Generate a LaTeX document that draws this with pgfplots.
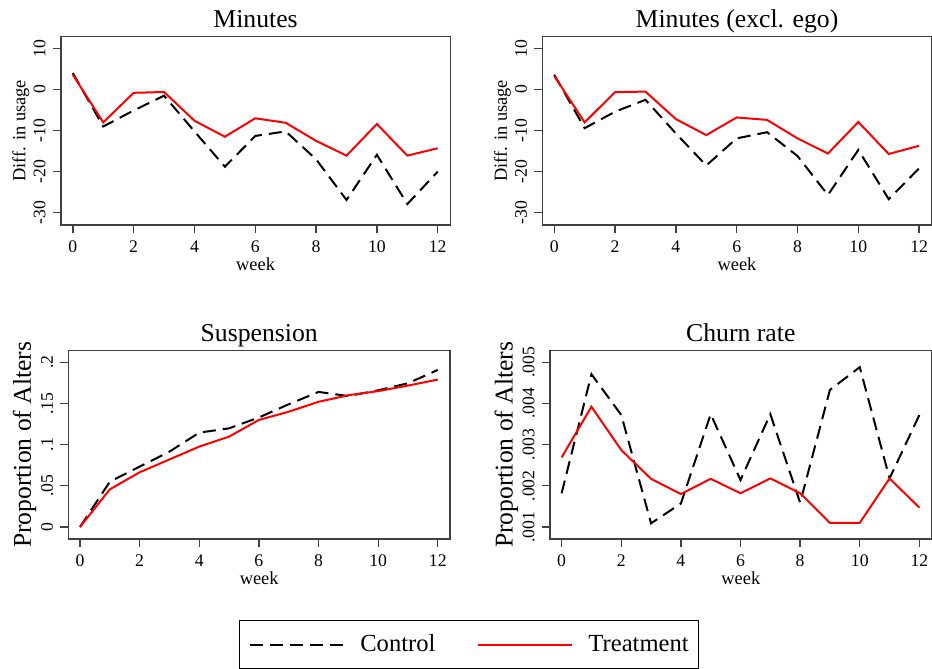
\documentclass[border=0pt]{standalone}
\usepackage{fontspec}
\setmainfont{Liberation Serif}
\usepackage{pgfplots}
\pgfplotsset{compat=1.18}

\definecolor{framegray}{RGB}{64,64,64}

\pgfplotsset{
  panel/.style={
    scale only axis,
    height=94.2pt,
    xmin=-0.39, xmax=12.41,
    axis line style={framegray, line width=0.65pt},
    tick style={framegray, line width=0.65pt},
    tick align=outside, major tick length=4pt,
    xtick pos=bottom, ytick pos=left,
    xtick={0,2,4,6,8,10,12}, xticklabels={0,2,4,6,8,10,12},
    scaled ticks=false,
    xticklabel style={anchor=base, inner sep=0pt, yshift=-9.65pt, font=\fontsize{8.85}{10}\selectfont},
    yticklabel style={xshift=-3.8pt, rotate=90, anchor=base, inner sep=0pt, font=\fontsize{8.85}{10}\selectfont},
    xlabel={week},
    every axis x label/.style={at={(axis description cs:0.5,0)}, anchor=base, yshift=-23pt, inner sep=0pt, font=\fontsize{9.2}{11}\selectfont},
    every axis title/.style={at={(axis description cs:0.5,1)}, anchor=base, yshift=4.4pt, inner sep=0pt, font=\fontsize{12.85}{15}\selectfont},
  },
  toprow/.style={
    panel, width=194.6pt,
    ymin=-33, ymax=12.9,
    ytick={-30,-20,-10,0,10}, yticklabels={-30,-20,-10,0,10},
    ylabel={Diff. in usage},
    every axis y label/.style={at={(axis description cs:0,0.5)}, xshift=-17.8pt, rotate=90, anchor=base, inner sep=0pt, font=\fontsize{9.2}{11}\selectfont},
  },
  botrow/.style={
    panel, width=190.8pt,
    ylabel={Proportion of Alters},
    every axis y label/.style={at={(axis description cs:0,0.5)}, xshift=-18.7pt, rotate=90, anchor=base, inner sep=0pt, font=\fontsize{12.8}{15}\selectfont},
  },
  ctrl/.style={black, line width=1pt, dash pattern=on 6.5pt off 3.5pt},
  treat/.style={red, line width=1pt},
}

\begin{document}
\begin{tikzpicture}
\path[use as bounding box] (0,0) rectangle (466pt,334.5pt);

% Minutes
\begin{axis}[toprow, at={(30.5pt,222pt)}, anchor=south west, title={Minutes}]
  \addplot[ctrl] coordinates {
    (0,4.0) (1,-9.0) (2,-5.1) (3,-1.5) (4,-10.2) (5,-18.8) (6,-11.3)
    (7,-10.2) (8,-17.0) (9,-26.9) (10,-15.9) (11,-27.9) (12,-20.0)
  };
  \addplot[treat] coordinates {
    (0,3.6) (1,-8.0) (2,-0.8) (3,-0.6) (4,-7.6) (5,-11.5) (6,-7.0)
    (7,-8.1) (8,-12.5) (9,-16.1) (10,-8.4) (11,-16.1) (12,-14.3)
  };
\end{axis}

% Minutes (excl. ego)
\begin{axis}[toprow, at={(271.2pt,222pt)}, anchor=south west, title={Minutes (excl. ego)}]
  \addplot[ctrl] coordinates {
    (0,3.6) (1,-9.4) (2,-5.4) (3,-2.5) (4,-10.7) (5,-18.5) (6,-11.9)
    (7,-10.4) (8,-16.2) (9,-25.7) (10,-14.7) (11,-26.7) (12,-19.2)
  };
  \addplot[treat] coordinates {
    (0,3.3) (1,-8.0) (2,-0.65) (3,-0.5) (4,-7.2) (5,-11.1) (6,-6.8)
    (7,-7.4) (8,-11.9) (9,-15.6) (10,-7.9) (11,-15.7) (12,-13.7)
  };
\end{axis}

% Suspension
\begin{axis}[botrow, at={(34.2pt,65pt)}, anchor=south west, title={Suspension},
  ymin=-0.0146, ymax=0.2142,
  ytick={0,0.05,0.1,0.15,0.2}, yticklabels={0,.05,.1,.15,.2},
  legend columns=2,
  legend cell align=left,
  legend image code/.code={\draw[#1] (0pt,0pt) -- (47pt,0pt);},
  legend style={at={(1.0498,-0.5603)}, anchor=center, draw=black, line width=0.6pt,
    inner xsep=5pt, inner ysep=7pt, font=\fontsize{12.3}{14}\selectfont,
    nodes={inner sep=0pt},
    /tikz/every odd column/.append style={column sep=7.5pt},
    /tikz/every even column/.append style={column sep=21pt}},
]
  \addplot[ctrl] coordinates {
    (0,0) (1,0.055) (2,0.0733) (3,0.0915) (4,0.1146) (5,0.1198) (6,0.133)
    (7,0.149) (8,0.164) (9,0.159) (10,0.166) (11,0.1745) (12,0.1907)
  };
  \addplot[treat] coordinates {
    (0,0) (1,0.0457) (2,0.0664) (3,0.082) (4,0.0976) (5,0.1097) (6,0.13)
    (7,0.140) (8,0.152) (9,0.160) (10,0.165) (11,0.1717) (12,0.179)
  };
  \legend{Control, Treatment}
\end{axis}

% Churn rate
\begin{axis}[botrow, at={(275pt,65pt)}, anchor=south west, title={Churn rate},
  ymin=0.000709, ymax=0.005283,
  ytick={0.001,0.002,0.003,0.004,0.005}, yticklabels={.001,.002,.003,.004,.005},
]
  \addplot[ctrl] coordinates {
    (0,0.00182) (1,0.00471) (2,0.00372) (3,0.00109) (4,0.00157) (5,0.00374) (6,0.00214)
    (7,0.00374) (8,0.00159) (9,0.00433) (10,0.00488) (11,0.00218) (12,0.00372)
  };
  \addplot[treat] coordinates {
    (0,0.00269) (1,0.00392) (2,0.00287) (3,0.00217) (4,0.00180) (5,0.00217) (6,0.00182)
    (7,0.00218) (8,0.00182) (9,0.00110) (10,0.00110) (11,0.00218) (12,0.00147)
  };
\end{axis}
\end{tikzpicture}
\end{document}
